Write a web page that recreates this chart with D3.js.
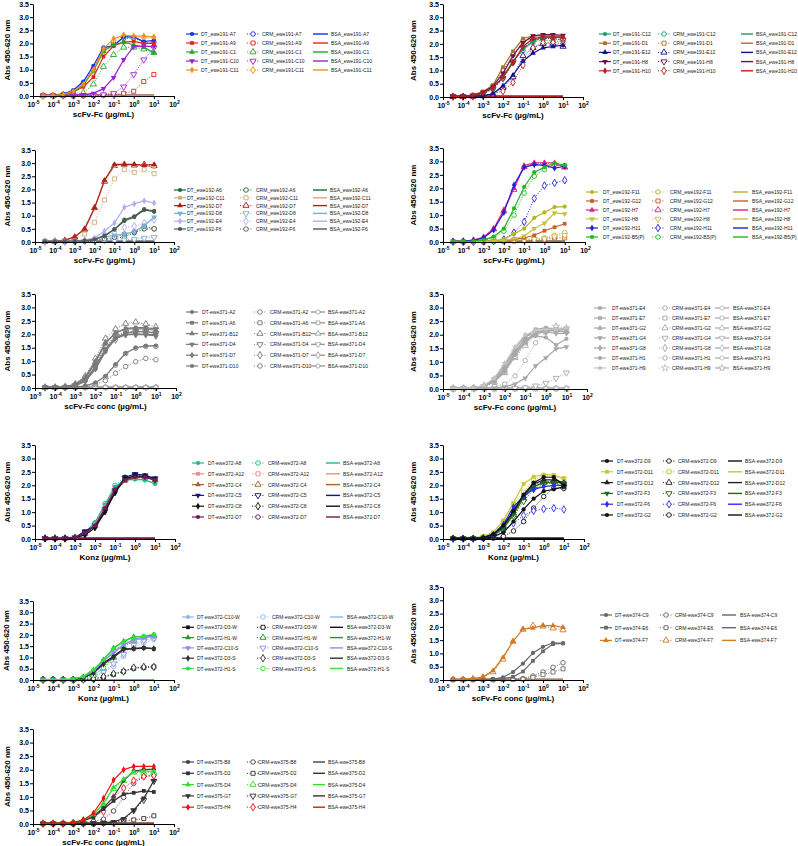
<!DOCTYPE html>
<html><head><meta charset="utf-8">
<script src="https://cdn.jsdelivr.net/npm/d3@7"></script>
<style>body{margin:0;background:#fff}svg{display:block;font-family:"Liberation Sans",Arial,sans-serif}</style>
</head><body><svg id="c" width="798" height="846"></svg>
<script>
// ---------- DATA ----------
const conc = [0.0000316, 0.0001, 0.000316, 0.001, 0.00316, 0.01, 0.0316, 0.1, 0.316, 1, 3.16, 10];
const yTicks = [0, 0.5, 1, 1.5, 2, 2.5, 3, 3.5];
const xTickExps = [-5, -4, -3, -2, -1, 0, 1, 2];
const bsaBaseline = [0.02,0.02,0.02,0.02,0.02,0.02,0.02,0.02,0.02,0.02,0.02,0.02];

const p1Clones = ["ewe191-A7","ewe191-A9","ewe191-C1","ewe191-C10","ewe191-C11"];
const p1DT = [
 [0.02,0.03,0.08,0.22,0.55,1.15,1.85,1.9,2.25,2.25,2.07,2.12],
 [0.02,0.02,0.05,0.15,0.35,0.72,1.5,1.9,2.05,2.08,2.0,2.0],
 [0.02,0.02,0.05,0.15,0.42,0.95,1.7,1.95,2.05,1.95,1.85,1.65],
 [0.02,0.02,0.02,0.03,0.05,0.1,0.28,0.7,1.38,1.88,1.9,1.88],
 [0.02,0.02,0.06,0.18,0.45,1.0,1.8,2.18,2.32,2.28,2.28,2.25]];
const p1CRM = [
 [0.02,0.02,0.06,0.18,0.5,1.05,1.75,2.0,2.2,2.2,2.05,2.05],
 [0.01,0.01,0.01,0.01,0.02,0.02,0.03,0.05,0.1,0.18,0.55,0.82],
 [0.01,0.01,0.02,0.05,0.12,0.45,1.12,1.57,1.85,1.85,1.78,1.65],
 [0.01,0.01,0.01,0.01,0.02,0.03,0.05,0.1,0.35,0.82,1.38,1.83],
 [0.02,0.02,0.05,0.16,0.42,0.95,1.7,2.1,2.28,2.2,2.22,2.2]];

const p2Clones = ["ewe191-C12","ewe191-D1","ewe191-E12","ewe191-H8","ewe191-H10"];
const p2DT = [
 [0.02,0.02,0.05,0.15,0.35,0.75,1.35,1.8,2.1,2.25,2.25,2.25],
 [0.02,0.02,0.08,0.2,0.45,1.12,1.72,2.2,2.3,2.3,2.3,2.25],
 [0.02,0.02,0.02,0.05,0.12,0.42,0.82,1.35,1.65,1.85,1.9,1.95],
 [0.02,0.02,0.06,0.18,0.4,0.9,1.55,2.05,2.3,2.35,2.35,2.32],
 [0.02,0.02,0.05,0.15,0.35,0.75,1.3,1.9,2.2,2.25,2.25,2.25]];
const p2CRM = [
 [0.02,0.02,0.04,0.12,0.3,0.7,1.3,1.75,2.05,2.15,2.1,2.1],
 [0.02,0.02,0.06,0.18,0.4,1.0,1.6,2.1,2.2,2.2,2.2,2.15],
 [0.01,0.01,0.02,0.04,0.1,0.35,0.75,1.55,1.85,2.0,2.0,1.9],
 [0.02,0.02,0.04,0.12,0.3,0.7,1.3,1.85,2.1,2.2,2.2,2.15],
 [0.01,0.01,0.02,0.05,0.12,0.22,0.55,1.2,1.85,2.05,2.05,2.0]];

const p3Clones = ["ewe192-A6","ewe192-C11","ewe192-D7","ewe192-D8","ewe192-E4","ewe192-F6"];
const p3DT = [
 [0.02,0.02,0.02,0.03,0.05,0.1,0.25,0.48,0.8,0.95,1.22,1.15],
 [0.02,0.03,0.06,0.18,0.48,1.28,2.32,2.9,2.95,2.92,2.9,2.85],
 [0.02,0.03,0.07,0.2,0.5,1.3,2.35,2.95,2.95,2.95,2.92,2.95],
 [0.02,0.02,0.02,0.03,0.05,0.12,0.2,0.25,0.3,0.4,0.62,0.95],
 [0.02,0.02,0.02,0.03,0.08,0.15,0.42,0.72,1.32,1.45,1.57,1.48],
 [0.02,0.02,0.02,0.03,0.05,0.1,0.22,0.48,0.85,0.98,1.25,1.18]];
const p3CRM = [
 [0.01,0.01,0.01,0.02,0.03,0.05,0.1,0.12,0.2,0.35,0.5,0.5],
 [0.02,0.02,0.04,0.12,0.3,0.75,1.6,2.4,2.75,2.65,2.75,2.6],
 [0.02,0.03,0.06,0.18,0.48,1.3,2.3,2.9,2.95,2.92,2.95,2.9],
 [0.01,0.01,0.01,0.01,0.02,0.03,0.05,0.05,0.08,0.1,0.15,0.18],
 [0.01,0.01,0.02,0.02,0.05,0.1,0.25,0.35,0.55,0.6,0.72,0.85],
 [0.01,0.01,0.01,0.02,0.03,0.06,0.12,0.18,0.3,0.38,0.6,0.5]];

const p4Clones = ["ewe192-F11","ewe192-G12","ewe192-H7","ewe192-H8","ewe192-H11","ewe192-B5(P)"];
const p4DT = [
 [0.02,0.02,0.02,0.03,0.05,0.1,0.3,0.5,0.9,1.1,1.3,1.32],
 [0.01,0.01,0.01,0.02,0.03,0.05,0.1,0.15,0.25,0.42,0.55,0.68],
 [0.02,0.03,0.07,0.18,0.5,1.2,2.0,2.85,2.95,2.95,2.95,2.78],
 [0.01,0.01,0.02,0.02,0.03,0.06,0.12,0.22,0.5,0.7,1.08,1.05],
 [0.02,0.03,0.06,0.15,0.45,1.1,2.12,2.78,2.88,2.85,2.75,2.82],
 [0.02,0.02,0.03,0.07,0.2,0.5,1.25,2.05,2.6,2.78,2.95,2.85]];
const p4CRM = [
 [0.01,0.01,0.01,0.02,0.02,0.04,0.06,0.1,0.12,0.15,0.25,0.35],
 [0.01,0.01,0.01,0.01,0.02,0.02,0.03,0.05,0.08,0.1,0.15,0.15],
 [0.02,0.03,0.06,0.17,0.48,1.15,1.95,2.8,2.92,2.92,2.9,2.78],
 [0.01,0.01,0.01,0.01,0.02,0.03,0.05,0.08,0.1,0.12,0.2,0.25],
 [0.01,0.01,0.01,0.02,0.04,0.1,0.35,0.75,1.62,2.1,2.2,2.3],
 [0.02,0.02,0.03,0.06,0.15,0.4,1.0,1.82,2.45,2.7,2.9,2.85]];

const p5Clones = ["ewe371-A2","ewe371-A6","ewe371-B12","ewe371-D4","ewe371-D7","ewe371-D10"];
const p5DT = [
 [0.02,0.02,0.03,0.08,0.25,0.7,1.35,1.85,2.05,2.1,2.1,2.05],
 [0.02,0.02,0.04,0.12,0.35,0.95,1.65,2.05,2.22,2.25,2.25,2.2],
 [0.02,0.02,0.04,0.15,0.42,1.0,1.7,2.05,2.2,2.2,2.2,2.15],
 [0.02,0.02,0.03,0.1,0.3,0.8,1.45,1.9,2.0,2.02,2.0,2.0],
 [0.02,0.02,0.03,0.1,0.28,0.72,1.4,1.85,1.98,2.0,1.98,1.95],
 [0.02,0.02,0.02,0.03,0.08,0.2,0.45,0.88,1.3,1.5,1.57,1.58]];
const p5CRM = [
 [0.01,0.01,0.01,0.02,0.05,0.12,0.28,0.55,0.8,0.98,1.1,1.05],
 [0.02,0.02,0.03,0.1,0.3,0.8,1.5,1.95,2.05,2.1,2.08,2.05],
 [0.02,0.02,0.04,0.15,0.45,1.1,1.85,2.2,2.4,2.45,2.38,2.28],
 [0.02,0.02,0.03,0.1,0.3,0.85,1.55,1.95,2.1,2.1,2.1,2.05],
 [0.02,0.02,0.03,0.1,0.3,0.75,1.4,1.8,2.0,2.0,2.0,1.95],
 [0.01,0.01,0.02,0.03,0.07,0.18,0.42,0.85,1.28,1.48,1.55,1.55]];

const p6Clones = ["ewe371-E4","ewe371-E7","ewe371-G2","ewe371-G4","ewe371-G8","ewe371-H1","ewe371-H9"];
const p6DT = [
 [0.02,0.02,0.03,0.1,0.28,0.65,1.25,1.75,2.1,2.15,2.15,2.1],
 [0.02,0.02,0.03,0.1,0.3,0.7,1.3,1.9,2.2,2.25,2.2,2.2],
 [0.02,0.02,0.03,0.12,0.32,0.75,1.35,1.7,2.05,2.2,2.15,2.1],
 [0.01,0.01,0.01,0.02,0.03,0.08,0.18,0.4,0.85,1.15,1.48,1.55],
 [0.02,0.02,0.04,0.12,0.35,0.85,1.5,1.95,2.05,2.1,2.05,2.05],
 [0.02,0.02,0.04,0.12,0.38,0.9,1.4,1.85,1.95,1.9,1.62,1.85],
 [0.02,0.02,0.04,0.14,0.4,0.95,1.55,2.0,2.15,2.2,2.2,2.25]];
const p6CRM = [
 [0.01,0.01,0.02,0.04,0.1,0.18,0.48,1.05,1.7,2.1,2.15,2.1],
 [0.02,0.02,0.03,0.08,0.25,0.6,1.2,1.65,2.05,2.2,2.25,2.2],
 [0.02,0.02,0.03,0.08,0.25,0.6,1.15,1.6,2.0,2.15,2.2,2.15],
 [0.01,0.01,0.01,0.01,0.01,0.02,0.03,0.05,0.12,0.22,0.4,0.6],
 [0.02,0.02,0.03,0.1,0.3,0.7,1.3,1.8,2.05,2.15,2.3,2.2],
 [0.02,0.02,0.03,0.09,0.28,0.65,1.2,1.7,2.0,2.1,2.2,2.2],
 [0.02,0.02,0.04,0.12,0.35,0.8,1.4,1.85,2.1,2.2,2.3,2.25]];

const p7Clones = ["ewe372-A8","ewe372-A12","ewe372-C4","ewe372-C5","ewe372-C8","ewe372-D7"];
const p7DT = [
 [0.02,0.05,0.02,0.08,0.25,0.62,1.28,1.95,2.2,2.22,2.2,2.05],
 [0.02,0.03,0.03,0.06,0.22,0.55,1.2,1.85,2.2,2.28,2.3,2.2],
 [0.02,0.02,0.02,0.05,0.2,0.5,1.1,1.8,2.15,2.3,2.3,2.2],
 [0.02,0.02,0.02,0.05,0.3,0.48,1.05,1.75,2.3,2.42,2.38,2.25],
 [0.02,0.02,0.02,0.04,0.15,0.42,1.0,1.72,2.25,2.35,2.32,2.2],
 [0.02,0.02,0.02,0.05,0.22,0.5,1.15,1.85,2.2,2.3,2.3,2.2]];
const p7CRM = [
 [0.02,0.02,0.03,0.06,0.25,0.6,1.32,2.0,2.3,2.25,2.2,2.1],
 [0.02,0.02,0.03,0.06,0.22,0.55,1.2,1.9,2.25,2.3,2.28,2.2],
 [0.02,0.02,0.02,0.05,0.2,0.5,1.15,1.85,2.2,2.3,2.3,2.2],
 [0.02,0.02,0.02,0.05,0.25,0.5,1.1,1.8,2.28,2.4,2.35,2.25],
 [0.02,0.02,0.02,0.04,0.18,0.45,1.05,1.75,2.25,2.35,2.3,2.2],
 [0.02,0.02,0.02,0.05,0.2,0.5,1.12,1.82,2.2,2.3,2.28,2.2]];

const p8Clones = ["ewe372-D9","ewe372-D11","ewe372-D12","ewe372-F3","ewe372-F6","ewe372-G2"];
const p8DT = [
 [0.02,0.02,0.02,0.03,0.08,0.25,0.65,1.1,1.5,1.78,1.85,1.95],
 [0.02,0.02,0.03,0.1,0.25,0.7,1.35,2.05,2.32,2.4,2.38,2.25],
 [0.02,0.02,0.02,0.05,0.15,0.45,1.0,1.6,2.05,2.2,2.2,2.1],
 [0.02,0.02,0.02,0.05,0.15,0.4,0.92,1.55,1.95,2.1,2.1,2.1],
 [0.02,0.02,0.02,0.05,0.18,0.55,1.2,1.6,1.85,1.95,2.0,2.0],
 [0.02,0.02,0.02,0.05,0.18,0.5,1.05,1.65,2.1,2.3,2.3,2.0]];
const p8CRM = [
 [0.01,0.01,0.01,0.02,0.03,0.1,0.3,0.65,1.15,1.58,1.9,1.88],
 [0.02,0.02,0.03,0.08,0.22,0.65,1.3,1.75,2.2,2.35,2.35,2.25],
 [0.02,0.02,0.02,0.04,0.12,0.4,0.9,1.5,1.95,2.1,2.15,2.05],
 [0.02,0.02,0.02,0.04,0.12,0.38,0.85,1.4,1.85,2.05,2.1,2.05],
 [0.01,0.01,0.01,0.03,0.1,0.3,0.58,0.88,1.05,1.12,1.15,1.1],
 [0.02,0.02,0.02,0.04,0.15,0.45,1.0,1.55,2.0,2.15,2.1,1.95]];

const p9Clones = ["ewe372-C10-W","ewe372-D3-W","ewe372-H1-W","ewe372-C10-S","ewe372-D3-S","ewe372-H1-S"];
const p9DT = [
 [0.02,0.02,0.02,0.03,0.1,0.35,0.8,1.3,1.55,1.75,1.85,1.92],
 [0.02,0.02,0.02,0.03,0.1,0.32,0.75,1.05,1.38,1.38,1.42,1.38],
 [0.02,0.02,0.02,0.04,0.15,0.45,0.9,1.42,1.72,1.92,1.92,2.0],
 [0.02,0.02,0.02,0.03,0.12,0.38,0.85,1.2,1.55,1.8,1.9,1.95],
 [0.02,0.02,0.02,0.03,0.1,0.3,0.7,1.0,1.35,1.4,1.42,1.4],
 [0.02,0.02,0.02,0.04,0.15,0.45,0.9,1.4,1.7,1.9,1.95,2.02]];
const p9CRM = [
 [0.01,0.01,0.01,0.02,0.05,0.15,0.35,0.6,1.05,1.45,1.65,1.8],
 [0.01,0.01,0.01,0.01,0.02,0.05,0.12,0.25,0.38,0.52,0.55,0.58],
 [0.01,0.01,0.01,0.02,0.08,0.22,0.5,1.0,1.45,1.75,1.85,1.95],
 [0.01,0.01,0.01,0.02,0.05,0.15,0.35,0.72,1.15,1.55,1.75,1.85],
 [0.01,0.01,0.01,0.01,0.02,0.05,0.15,0.28,0.38,0.55,0.58,0.58],
 [0.01,0.01,0.01,0.02,0.08,0.22,0.55,1.0,1.45,1.8,1.88,1.95]];

const p10Clones = ["ewe374-C9","ewe374-E6","ewe374-F7"];
const p10DT = [
 [0.01,0.01,0.01,0.02,0.03,0.1,0.3,0.62,1.02,1.25,1.4,1.38],
 [0.01,0.01,0.01,0.01,0.02,0.05,0.12,0.32,0.72,1.08,1.35,1.38],
 [0.02,0.02,0.05,0.12,0.35,0.85,1.45,1.92,1.95,2.05,2.05,1.98]];
const p10CRM = [
 [0.01,0.01,0.01,0.01,0.01,0.02,0.03,0.06,0.15,0.3,0.48,0.65],
 [0.01,0.01,0.01,0.01,0.01,0.01,0.02,0.03,0.1,0.2,0.3,0.42],
 [0.02,0.02,0.04,0.1,0.3,0.78,1.45,1.9,2.05,2.02,1.95,1.88]];

const p11Clones = ["ewe375-B8","ewe375-D2","ewe375-D4","ewe375-G7","ewe375-H4"];
const p11DT = [
 [0.02,0.02,0.02,0.05,0.12,0.3,0.6,1.0,1.6,1.95,2.0,2.02],
 [0.02,0.02,0.02,0.05,0.12,0.25,0.55,0.85,1.1,1.15,1.22,1.18],
 [0.02,0.02,0.02,0.05,0.15,0.35,0.75,1.35,1.65,1.92,1.95,1.95],
 [0.01,0.01,0.01,0.01,0.02,0.03,0.05,0.08,0.2,0.5,0.95,1.6],
 [0.02,0.02,0.02,0.05,0.15,0.4,0.95,1.62,2.0,2.12,2.12,2.12]];
const p11CRM = [
 [0.01,0.01,0.01,0.02,0.05,0.1,0.18,0.48,0.98,1.5,1.75,1.8],
 [0.01,0.01,0.01,0.01,0.01,0.01,0.03,0.05,0.1,0.15,0.2,0.3],
 [0.02,0.02,0.02,0.05,0.15,0.35,0.72,1.3,1.6,1.9,1.9,1.88],
 [0.01,0.01,0.01,0.01,0.01,0.02,0.03,0.05,0.15,0.5,0.88,1.58],
 [0.02,0.02,0.02,0.04,0.12,0.3,0.45,0.98,1.32,1.6,1.75,1.78]];

// ---------- STYLE / LAYOUT ----------
const p1Colors = ["#1230f0","#e8201c","#22a82a","#9a22d0","#f0901e"];
const p2Colors = ["#1a9a72","#a8722c","#12128a","#6c1250","#b81c1c"];
const p3Colors = ["#1e6a2e","#d2aa78","#b01c1c","#7aaee0","#b4acf0","#555555"];
const p4Colors = ["#b8b428","#c8602a","#e0207a","#c8c040","#2020dd","#22b822"];
const p5Colors = ["#7a7a7a","#7a7a7a","#7a7a7a","#7a7a7a","#7a7a7a","#7a7a7a"];
const p6Colors = ["#a8a8a8","#a8a8a8","#a8a8a8","#a8a8a8","#a8a8a8","#a8a8a8","#c4c4c4"];
const p7Colors = ["#20b888","#f08a8a","#a0682a","#16167a","#111111","#6e1a5a"];
const p8Colors = ["#111111","#c8c830","#222222","#1a6e1a","#2a2aee","#111111"];
const p9Colors = ["#8cb8ea","#111111","#1e9a2a","#8c8cee","#333333","#33e033"];
const p10Colors = ["#666666","#6a6a6a","#d47a22"];
const p11Colors = ["#444444","#333333","#33dd33","#333333","#ee1111"];

const panels = [
 {clones:p1Clones,dt:p1DT,crm:p1CRM,colors:p1Colors,sep:"_",xt:"scFv-Fc (µg/mL)",gray:false,
  b:{x0:33,x1:174,yT:4,yB:96},ytx:7,L:{y0:34,dy:9,m1:192,t1:201,m2:253,t2:262,a3:313,b3:328,t3:331}},
 {clones:p2Clones,dt:p2DT,crm:p2CRM,colors:p2Colors,sep:"_",xt:"scFv-Fc (µg/mL)",gray:false,
  b:{x0:443,x1:583,yT:4,yB:97},ytx:413,L:{y0:34,dy:9.2,m1:605,t1:613,m2:664,t2:673,a3:741,b3:753,t3:756}},
 {clones:p3Clones,dt:p3DT,crm:p3CRM,colors:p3Colors,sep:"_",xt:"scFv-Fc (µg/mL)",gray:false,
  b:{x0:35,x1:174,yT:150,yB:242},ytx:7,L:{y0:190,dy:7.8,m1:180,t1:187,m2:246,t2:256,a3:313,b3:327,t3:330}},
 {clones:p4Clones,dt:p4DT,crm:p4CRM,colors:p4Colors,sep:"_",xt:"scFv-Fc (µg/mL)",gray:false,
  b:{x0:443,x1:585,yT:148,yB:242},ytx:413,L:{y0:192,dy:9,m1:592,t1:603,m2:658,t2:670,a3:733,b3:748,t3:752}},
 {clones:p5Clones,dt:p5DT,crm:p5CRM,colors:p5Colors,sep:"-",xt:"scFv-Fc conc (µg/mL)",gray:true,bsaCol:"#9a9a9a",
  b:{x0:35,x1:176,yT:294,yB:388},ytx:7,L:{y0:312,dy:10.8,m1:192,t1:202,m2:260,t2:270,a3:311,b3:325,t3:328}},
 {clones:p6Clones,dt:p6DT,crm:p6CRM,colors:p6Colors,sep:"-",xt:"scFv-Fc conc (µg/mL)",gray:true,bsaCol:"#b4b4b4",
  b:{x0:443,x1:587,yT:294,yB:389},ytx:413,L:{y0:308,dy:10,m1:600,t1:612,m2:665,t2:672,a3:715,b3:729,t3:733}},
 {clones:p7Clones,dt:p7DT,crm:p7CRM,colors:p7Colors,sep:"-",xt:"Konz (µg/mL)",gray:false,
  b:{x0:35,x1:175,yT:445,yB:539},ytx:7,L:{y0:463,dy:10.8,m1:198,t1:208,m2:258,t2:268,a3:326,b3:340,t3:343}},
 {clones:p8Clones,dt:p8DT,crm:p8CRM,colors:p8Colors,sep:"-",xt:"Konz (µg/mL)",gray:false,
  b:{x0:443,x1:584,yT:445,yB:539},ytx:413,L:{y0:461,dy:10.8,m1:607,t1:617,m2:669,t2:678,a3:728,b3:742,t3:745}},
 {clones:p9Clones,dt:p9DT,crm:p9CRM,colors:p9Colors,sep:"-",xt:"Konz (µg/mL)",gray:false,
  b:{x0:33,x1:174,yT:601,yB:680},ytx:6,L:{y0:617,dy:10.3,m1:188,t1:197,m2:263,t2:272,a3:330,b3:343,t3:347}},
 {clones:p10Clones,dt:p10DT,crm:p10CRM,colors:p10Colors,sep:"-",xt:"scFv-Fc conc (µg/mL)",gray:false,
  b:{x0:443,x1:583,yT:587,yB:680},ytx:413,L:{y0:615,dy:12.7,m1:606,t1:615,m2:666,t2:675,a3:722,b3:736,t3:740}},
 {clones:p11Clones,dt:p11DT,crm:p11CRM,colors:p11Colors,sep:"-",xt:"scFv-Fc conc (µg/mL)",gray:false,
  b:{x0:33,x1:174,yT:729,yB:824},ytx:7,L:{y0:762,dy:11.3,m1:188,t1:197,m2:253,t2:258,a3:313,b3:325,t3:328}}
];

const symTypes = [d3.symbolCircle, d3.symbolSquare, d3.symbolTriangle, "down", d3.symbolDiamond, d3.symbolCircle, d3.symbolStar];
function symPath(i, size){
  const t = symTypes[i % symTypes.length];
  if (t === "down") return d3.symbol(d3.symbolTriangle, size)();
  return d3.symbol(t, size)();
}
function symRot(i){ return symTypes[i % symTypes.length] === "down" ? " rotate(180)" : ""; }

const svg = d3.select("#c");
const FS = 5.0;

panels.forEach(p => {
  const g = svg.append("g");
  const xs = d3.scaleLog().domain([1e-5, 1e2]).range([p.b.x0, p.b.x1]);
  const ys = d3.scaleLinear().domain([0, 3.5]).range([p.b.yB, p.b.yT]);
  const line = d3.line().x(d => xs(d[0])).y(d => ys(d[1]));
  const pts = arr => arr.map((v, k) => [conc[k], v]);

  // BSA (baseline) lines
  p.clones.forEach((c, i) => {
    const col = p.gray ? p.bsaCol : p.colors[i];
    g.append("path").attr("d", line(pts(bsaBaseline))).attr("fill","none").attr("stroke",col).attr("stroke-width",1.2);
    if (p.gray) {
      pts(bsaBaseline).forEach(d => g.append("path").attr("d", symPath(i, 14))
        .attr("transform",`translate(${xs(d[0])},${ys(d[1])})${symRot(i)}`)
        .attr("fill","#fff").attr("stroke",col).attr("stroke-width",0.8));
    }
  });
  // CRM dotted, open markers
  p.clones.forEach((c, i) => {
    const col = p.colors[i];
    g.append("path").attr("d", line(pts(p.crm[i]))).attr("fill","none").attr("stroke",col)
      .attr("stroke-width",1).attr("stroke-dasharray","1,1.6");
    pts(p.crm[i]).forEach(d => g.append("path").attr("d", symPath(i, 16))
      .attr("transform",`translate(${xs(d[0])},${ys(d[1])})${symRot(i)}`)
      .attr("fill","#fff").attr("stroke",col).attr("stroke-width",0.9));
  });
  // DT solid, filled markers
  p.clones.forEach((c, i) => {
    const col = p.colors[i];
    g.append("path").attr("d", line(pts(p.dt[i]))).attr("fill","none").attr("stroke",col).attr("stroke-width",1.2);
    pts(p.dt[i]).forEach(d => g.append("path").attr("d", symPath(i, 14))
      .attr("transform",`translate(${xs(d[0])},${ys(d[1])})${symRot(i)}`)
      .attr("fill",col));
  });

  // Axes
  const ya = d3.axisLeft(ys).tickValues(yTicks).tickFormat(d3.format(".1f")).tickSize(3).tickSizeOuter(0);
  const yg = g.append("g").attr("transform",`translate(${p.b.x0},0)`).call(ya);
  yg.selectAll("text").attr("font-size",7).attr("font-weight","bold").attr("font-family","Liberation Sans, Arial").attr("x",-4);
  const xa = d3.axisBottom(xs).tickValues(xTickExps.map(e => Math.pow(10, e))).tickFormat(() => "").tickSize(3).tickSizeOuter(0);
  const xg = g.append("g").attr("transform",`translate(0,${p.b.yB})`).call(xa);
  xg.selectAll(".tick").each(function(d, k){
    const t = d3.select(this).append("text").attr("y", 10.5).attr("fill","#000").attr("text-anchor","middle")
      .attr("font-size",7).attr("font-weight","bold").attr("font-family","Liberation Sans, Arial");
    t.append("tspan").text("10");
    t.append("tspan").attr("dy",-3).attr("font-size",5).text(String(xTickExps[k]));
  });
  g.selectAll(".domain").attr("stroke","#000").attr("stroke-width",1);
  g.selectAll(".tick line").attr("stroke","#000");

  // Titles
  g.append("text").attr("transform",`translate(${p.ytx},${(p.b.yT+p.b.yB)/2}) rotate(-90)`)
    .attr("text-anchor","middle").attr("dominant-baseline","central").attr("font-size",8).attr("font-weight","bold").text("Abs 450-620 nm");
  g.append("text").attr("x",(p.b.x0+p.b.x1)/2).attr("y",p.b.yB + 21).attr("text-anchor","middle")
    .attr("font-size",8).attr("font-weight","bold").text(p.xt);

  // Legend
  const L = p.L;
  p.clones.forEach((c, i) => {
    const y = L.y0 + i * L.dy;
    const col = p.colors[i];
    g.append("line").attr("x1",L.m1-6).attr("x2",L.m1+6).attr("y1",y).attr("y2",y).attr("stroke",col).attr("stroke-width",1.2);
    g.append("path").attr("d",symPath(i,14)).attr("transform",`translate(${L.m1},${y})${symRot(i)}`).attr("fill",col);
    g.append("text").attr("x",L.t1).attr("y",y).attr("dominant-baseline","central").attr("font-size",FS).attr("fill","#222").text("DT"+p.sep+c);
    g.append("line").attr("x1",L.m2-6).attr("x2",L.m2+6).attr("y1",y).attr("y2",y).attr("stroke",col).attr("stroke-width",1).attr("stroke-dasharray","1,1.6");
    g.append("path").attr("d",symPath(i,16)).attr("transform",`translate(${L.m2},${y})${symRot(i)}`).attr("fill","#fff").attr("stroke",col).attr("stroke-width",0.9);
    g.append("text").attr("x",L.t2).attr("y",y).attr("dominant-baseline","central").attr("font-size",FS).attr("fill","#222").text("CRM"+p.sep+c);
    const bc = p.gray ? p.bsaCol : col;
    g.append("line").attr("x1",L.a3).attr("x2",L.b3).attr("y1",y).attr("y2",y).attr("stroke",bc).attr("stroke-width",1.4);
    if (p.gray) g.append("path").attr("d",symPath(i,14)).attr("transform",`translate(${(L.a3+L.b3)/2},${y})${symRot(i)}`).attr("fill","#fff").attr("stroke",bc).attr("stroke-width",0.8);
    g.append("text").attr("x",L.t3).attr("y",y).attr("dominant-baseline","central").attr("font-size",FS).attr("fill","#222").text("BSA"+p.sep+c);
  });
});
</script></body></html>
